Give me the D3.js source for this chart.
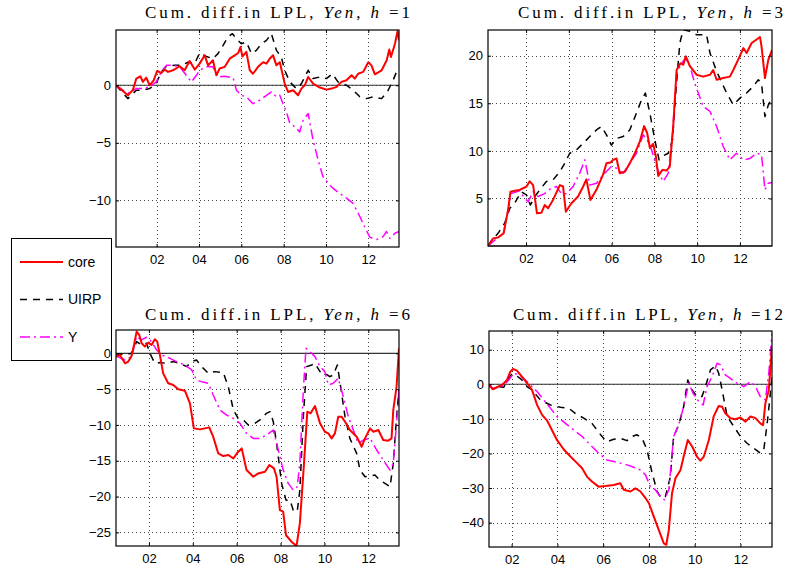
<!DOCTYPE html>
<html>
<head>
<meta charset="utf-8">
<script src="https://cdn.jsdelivr.net/npm/d3@7"></script>
<style>
body { margin: 0; background: #fff; }
</style>
</head>
<body>
<script>
var width = 790;
var height = 574;

// chart values
var horizons = [1, 3, 6, 12];
var xStart = [2000.08, 2000.22, 2000.5, 2001.01];
var xEnd = [2013.45, 2013.5, 2013.4, 2013.38];
var yDomains = [[-14.05, 4.8], [0, 22.7], [-26.9, 3.25], [-47.05, 15.4]];
var yTicks = [[-10, -5, 0], [5, 10, 15, 20], [-25, -20, -15, -10, -5, 0], [-40, -30, -20, -10, 0, 10]];
var xTicks = [2002, 2004, 2006, 2008, 2010, 2012];
var xTickLabels = ["02", "04", "06", "08", "10", "12"];
var seriesNames = ["core", "UIRP", "Y"];

var h1Core = [[2000.08,0],[2000.64,-0.87],[2000.88,-0.4],[2001.04,0.58],[2001.23,0.78],[2001.35,0.3],[2001.51,0.66],[2001.67,0],[2001.86,0.43],[2002.02,1.24],[2002.22,1.07],[2002.38,1.36],[2002.54,1.16],[2002.77,1.3],[2003.09,1.65],[2003.32,1.3],[2003.56,2.1],[2003.8,1.36],[2004.03,1.88],[2004.27,2.6],[2004.43,1.73],[2004.66,2.17],[2004.82,0.87],[2004.98,1.45],[2005.22,1.6],[2005.45,2.31],[2005.69,2.6],[2005.85,2.8],[2005.96,3.32],[2006.05,2.5],[2006.24,2.9],[2006.4,1.3],[2006.55,1.0],[2006.79,1.6],[2007.03,2.0],[2007.19,1.88],[2007.34,2.31],[2007.5,2.6],[2007.66,1.73],[2007.82,2.0],[2008.05,0.14],[2008.21,-0.58],[2008.45,-0.43],[2008.68,-0.87],[2008.84,-0.29],[2009.0,0],[2009.16,0.72],[2009.39,0.14],[2009.71,-0.2],[2010.02,-0.38],[2010.26,-0.29],[2010.5,-0.14],[2010.73,0.29],[2010.97,0.43],[2011.21,0.87],[2011.36,0.58],[2011.52,1.0],[2011.76,1.16],[2012.0,2.0],[2012.15,1.73],[2012.31,0.95],[2012.63,1.3],[2012.87,2.17],[2012.99,3.1],[2013.07,2.46],[2013.26,3.6],[2013.38,4.7],[2013.45,3.9]];
var h1Uirp = [[2000.08,0],[2000.64,-1.16],[2001.04,-0.43],[2001.35,-0.43],[2001.67,-0.29],[2001.98,0.14],[2002.22,1.16],[2002.46,1.65],[2002.85,1.73],[2003.17,1.73],[2003.48,2.0],[2003.8,1.88],[2004.03,2.8],[2004.35,2.5],[2004.66,2.31],[2004.9,2.75],[2005.14,3.47],[2005.37,4.2],[2005.58,4.48],[2005.77,4.05],[2006.0,3.6],[2006.24,3.76],[2006.48,2.75],[2006.71,3.03],[2006.95,3.6],[2007.19,3.9],[2007.42,4.48],[2007.66,3.03],[2007.89,2.46],[2008.05,1.3],[2008.29,0.29],[2008.6,-0.29],[2008.84,0.14],[2009.16,1.3],[2009.39,0.58],[2009.71,0.72],[2010.02,0.58],[2010.3,1.0],[2010.57,0.29],[2010.97,0],[2011.28,-0.43],[2011.6,-1.0],[2011.91,-1.16],[2012.23,-1.0],[2012.63,-1.16],[2012.94,-0.43],[2013.17,0.43],[2013.33,1.16],[2013.45,1.24]];
var h1Y = [[2000.08,0],[2000.64,-0.72],[2001.04,-0.29],[2001.35,-0.29],[2001.67,-0.14],[2001.98,0.29],[2002.22,1.16],[2002.46,1.73],[2002.77,1.73],[2003.09,1.6],[2003.4,0.87],[2003.64,0.29],[2003.88,0.87],[2004.03,1.3],[2004.35,1.6],[2004.66,1.6],[2004.9,0.72],[2005.22,0.78],[2005.61,0.66],[2005.77,-0.43],[2006.0,-0.87],[2006.24,-1.0],[2006.55,-1.6],[2006.87,-1.3],[2007.19,-0.87],[2007.42,-0.58],[2007.66,-1.0],[2007.82,-0.87],[2007.97,-1.6],[2008.13,-2.3],[2008.29,-3.3],[2008.52,-3.6],[2008.76,-4.05],[2008.92,-3.03],[2009.16,-2.46],[2009.39,-4.77],[2009.63,-6.5],[2009.86,-7.95],[2010.1,-8.5],[2010.34,-8.96],[2010.65,-9.4],[2010.97,-9.8],[2011.28,-10.26],[2011.6,-11.4],[2011.83,-12.3],[2012.07,-13.2],[2012.39,-13.4],[2012.7,-13.15],[2012.86,-12.7],[2013.02,-13.3],[2013.26,-12.86],[2013.45,-12.7]];

var h3Core = [[2000.22,0],[2000.46,0.8],[2000.69,0.9],[2000.95,1.33],[2001.16,3.8],[2001.27,5.7],[2001.47,5.8],[2001.7,5.9],[2001.86,6.07],[2002.02,6.25],[2002.17,6.8],[2002.33,6.4],[2002.51,3.44],[2002.72,3.5],[2002.87,4.3],[2003.03,3.96],[2003.26,4.84],[2003.58,6.4],[2003.73,6.25],[2003.86,3.6],[2004.12,4.5],[2004.43,5.2],[2004.67,6.25],[2004.82,7.0],[2005.01,4.84],[2005.29,5.9],[2005.6,7.5],[2005.76,8.7],[2005.95,8.77],[2006.07,9.05],[2006.23,9.2],[2006.38,7.65],[2006.62,7.8],[2006.85,8.7],[2007.09,9.75],[2007.32,10.98],[2007.52,12.6],[2007.66,11.9],[2007.79,10.3],[2007.94,10.74],[2008.07,9.4],[2008.18,7.37],[2008.38,8.0],[2008.57,7.93],[2008.72,8.35],[2008.88,12.56],[2009.04,18.5],[2009.22,19.2],[2009.35,19.05],[2009.47,19.93],[2009.66,18.9],[2009.97,18.0],[2010.28,17.8],[2010.6,18.0],[2010.75,18.5],[2010.91,17.47],[2011.22,17.65],[2011.53,17.8],[2011.69,18.5],[2011.92,19.58],[2012.16,20.8],[2012.31,20.28],[2012.55,21.33],[2012.78,21.7],[2012.94,21.96],[2013.01,20.98],[2013.17,17.65],[2013.33,19.58],[2013.5,20.6]];
var h3Uirp = [[2000.22,0],[2000.46,0.8],[2000.69,1.33],[2001.0,2.4],[2001.24,3.96],[2001.47,4.5],[2001.78,5.7],[2002.02,5.37],[2002.2,4.3],[2002.41,5.2],[2002.64,5.9],[2002.95,6.77],[2003.26,6.95],[2003.58,7.82],[2003.81,8.7],[2004.04,9.75],[2004.36,10.1],[2004.67,10.8],[2004.98,11.5],[2005.29,12.2],[2005.53,12.56],[2005.76,11.68],[2005.99,10.6],[2006.23,11.3],[2006.54,11.5],[2006.85,12.2],[2007.16,13.96],[2007.4,15.37],[2007.58,16.07],[2007.79,13.96],[2008.02,11.16],[2008.22,9.05],[2008.41,9.47],[2008.65,9.75],[2008.85,11.16],[2009.0,16.07],[2009.19,21.33],[2009.35,22.74],[2009.66,22.56],[2009.97,22.2],[2010.44,22.2],[2010.6,20.28],[2010.91,18.35],[2011.38,16.07],[2011.69,14.84],[2012.0,15.54],[2012.31,16.07],[2012.62,16.77],[2012.86,17.47],[2013.01,17.1],[2013.17,13.6],[2013.33,14.84],[2013.5,15.54]];
var h3Y = [[2000.22,0],[2000.69,0.9],[2000.95,1.33],[2001.16,3.8],[2001.31,5.5],[2001.7,5.8],[2001.94,5.0],[2002.1,4.66],[2002.33,5.7],[2002.56,5.2],[2002.87,5.5],[2003.11,5.96],[2003.42,6.25],[2003.65,5.5],[2003.89,5.5],[2004.2,6.25],[2004.51,7.65],[2004.75,9.05],[2004.98,6.4],[2005.29,6.6],[2005.68,7.65],[2005.99,8.35],[2006.23,8.17],[2006.54,7.65],[2006.85,8.7],[2007.16,9.75],[2007.48,11.68],[2007.66,11.16],[2007.87,10.1],[2008.1,8.35],[2008.26,7.47],[2008.41,6.77],[2008.65,7.65],[2008.85,11.86],[2009.04,18.17],[2009.27,19.2],[2009.47,19.75],[2009.66,18.9],[2009.89,17.1],[2010.28,14.67],[2010.6,14.14],[2010.91,12.56],[2011.22,10.46],[2011.53,9.05],[2011.84,9.75],[2012.16,9.05],[2012.47,9.2],[2012.78,9.75],[2013.01,9.6],[2013.17,5.9],[2013.33,6.6],[2013.5,6.67]];

var h6Core = [[2000.5,-0.47],[2000.68,-0.23],[2000.91,-1.4],[2001.06,-1.16],[2001.21,-0.37],[2001.32,1.16],[2001.44,3.03],[2001.56,2.56],[2001.67,1.4],[2001.82,0.93],[2001.97,1.49],[2002.12,1.16],[2002.27,1.96],[2002.38,1.63],[2002.5,-0.23],[2002.65,-2.8],[2002.88,-4.19],[2003.11,-4.42],[2003.34,-5.03],[2003.64,-5.22],[2003.87,-6.99],[2004.05,-10.48],[2004.33,-10.62],[2004.55,-10.48],[2004.75,-10.34],[2004.93,-11.64],[2005.16,-13.97],[2005.39,-14.35],[2005.62,-14.2],[2005.85,-14.67],[2006.03,-13.88],[2006.23,-13.27],[2006.45,-16.3],[2006.76,-17.23],[2006.98,-16.77],[2007.29,-16.53],[2007.49,-15.6],[2007.7,-16.07],[2007.82,-17.23],[2007.97,-21.9],[2008.12,-22.1],[2008.25,-25.4],[2008.5,-26.3],[2008.73,-26.9],[2008.88,-23.75],[2009.07,-15.37],[2009.22,-8.15],[2009.37,-8.38],[2009.57,-7.36],[2009.8,-9.78],[2010.02,-10.95],[2010.18,-11.18],[2010.33,-11.88],[2010.48,-11.18],[2010.63,-8.85],[2010.78,-8.85],[2010.94,-9.55],[2011.16,-10.71],[2011.47,-11.64],[2011.7,-13.04],[2011.85,-11.88],[2012.08,-10.48],[2012.23,-10.95],[2012.46,-10.71],[2012.68,-12.1],[2012.91,-12.2],[2013.06,-11.88],[2013.14,-7.9],[2013.29,-4.66],[2013.4,0.7]];
var h6Uirp = [[2000.5,-0.37],[2000.68,-0.1],[2000.91,-0.23],[2001.21,0],[2001.44,1.63],[2001.67,1.16],[2001.89,1.4],[2002.08,-0.23],[2002.27,-1.4],[2002.5,-1.3],[2002.8,-1.4],[2003.11,-1.16],[2003.41,-1.4],[2003.72,-1.86],[2003.95,-1.16],[2004.17,-0.93],[2004.4,-1.86],[2004.71,-2.8],[2005.0,-2.56],[2005.39,-2.7],[2005.62,-4.66],[2005.85,-7.92],[2006.07,-9.08],[2006.3,-9.3],[2006.53,-10.0],[2006.83,-9.78],[2007.06,-9.3],[2007.36,-8.38],[2007.52,-8.15],[2007.67,-9.55],[2007.82,-12.58],[2008.05,-18.16],[2008.25,-20.5],[2008.43,-20.5],[2008.58,-21.9],[2008.76,-22.1],[2008.88,-19.1],[2009.04,-8.85],[2009.19,-1.86],[2009.42,-1.63],[2009.57,-1.4],[2009.8,-2.56],[2010.02,-2.8],[2010.25,-3.26],[2010.4,-3.03],[2010.59,-1.63],[2010.74,-4.66],[2010.94,-8.85],[2011.16,-11.88],[2011.47,-13.97],[2011.62,-16.3],[2011.85,-17.23],[2012.08,-17.14],[2012.3,-17.0],[2012.53,-17.7],[2012.76,-18.16],[2012.99,-18.63],[2013.14,-15.37],[2013.29,-8.85],[2013.4,-5.12]];
var h6Y = [[2000.5,-0.37],[2000.91,-0.93],[2001.21,-0.47],[2001.44,2.33],[2001.67,1.86],[2001.89,2.24],[2002.12,1.63],[2002.35,0.47],[2002.58,-0.23],[2002.96,-0.7],[2003.26,-1.16],[2003.64,-1.63],[2003.95,-2.33],[2004.17,-3.73],[2004.4,-3.96],[2004.71,-4.19],[2004.93,-5.82],[2005.24,-7.92],[2005.54,-8.62],[2005.85,-9.08],[2006.15,-9.78],[2006.45,-11.18],[2006.76,-11.88],[2007.06,-11.88],[2007.36,-11.41],[2007.67,-10.71],[2007.9,-13.51],[2008.12,-16.3],[2008.35,-18.16],[2008.58,-19.1],[2008.76,-18.63],[2008.88,-15.37],[2009.04,-5.12],[2009.16,0.7],[2009.34,0.23],[2009.57,-0.47],[2009.8,-1.86],[2010.02,-2.56],[2010.18,-4.42],[2010.4,-4.19],[2010.63,-3.49],[2010.86,-6.05],[2011.09,-8.85],[2011.32,-10.71],[2011.54,-12.58],[2011.77,-12.11],[2012.08,-11.88],[2012.38,-13.5],[2012.68,-14.9],[2012.99,-16.3],[2013.14,-15.37],[2013.29,-9.78],[2013.4,-5.12]];

var h12Core = [[2001.01,-0.2],[2001.18,-1.45],[2001.36,-0.87],[2001.58,-0.2],[2001.8,1.25],[2001.94,3.66],[2002.06,4.43],[2002.23,3.95],[2002.45,2.2],[2002.67,0.3],[2002.89,-1.64],[2003.11,-5.97],[2003.33,-8.86],[2003.55,-10.5],[2003.76,-13.2],[2003.98,-16.1],[2004.27,-18.8],[2004.57,-20.9],[2004.86,-22.8],[2005.08,-24.3],[2005.29,-26.7],[2005.51,-28.1],[2005.8,-29.6],[2006.1,-29.4],[2006.46,-29.1],[2006.75,-28.6],[2006.9,-30.5],[2007.19,-31.0],[2007.41,-30.1],[2007.63,-31.0],[2007.85,-32.9],[2008.0,-34.4],[2008.21,-38.2],[2008.43,-42.1],[2008.65,-46.0],[2008.76,-46.4],[2008.87,-42.1],[2009.01,-31.5],[2009.16,-27.2],[2009.38,-24.8],[2009.52,-20.9],[2009.7,-16.1],[2009.89,-18.0],[2010.1,-20.9],[2010.25,-22.1],[2010.4,-20.9],[2010.62,-16.1],[2010.83,-9.3],[2011.05,-6.3],[2011.2,-6.5],[2011.34,-8.4],[2011.56,-9.8],[2011.78,-10.1],[2012.0,-9.6],[2012.22,-10.8],[2012.44,-9.3],[2012.66,-9.8],[2012.87,-11.3],[2012.99,-11.8],[2013.09,-5.5],[2013.24,-1.64],[2013.38,10.9]];
var h12Uirp = [[2001.01,-0.2],[2001.18,-1.45],[2001.36,-0.67],[2001.65,-0.87],[2001.83,1.25],[2002.01,3.0],[2002.23,2.4],[2002.45,1.25],[2002.67,-0.67],[2002.89,-1.64],[2003.25,-4.5],[2003.69,-6.0],[2004.13,-6.65],[2004.49,-6.9],[2004.78,-8.4],[2005.15,-9.8],[2005.51,-11.3],[2005.73,-13.2],[2005.95,-15.1],[2006.17,-16.6],[2006.46,-15.9],[2006.75,-15.6],[2007.04,-16.3],[2007.26,-15.1],[2007.48,-14.6],[2007.7,-15.6],[2007.92,-19.0],[2008.14,-25.7],[2008.36,-31.0],[2008.53,-32.9],[2008.72,-32.5],[2008.94,-26.7],[2009.08,-15.1],[2009.3,-11.8],[2009.52,-6.45],[2009.7,1.25],[2009.89,-1.64],[2010.1,-3.56],[2010.32,-3.56],[2010.47,-0.67],[2010.69,4.14],[2010.91,5.3],[2011.05,3.2],[2011.2,-1.64],[2011.42,-9.3],[2011.71,-12.2],[2012.0,-15.1],[2012.29,-17.05],[2012.58,-18.5],[2012.87,-19.9],[2013.02,-19.0],[2013.17,-11.3],[2013.28,-4.5],[2013.38,2.2]];
var h12Y = [[2001.01,-0.2],[2001.18,-1.2],[2001.43,-0.67],[2001.65,-0.5],[2001.87,1.25],[2002.09,3.2],[2002.31,2.7],[2002.52,1.73],[2002.82,-0.2],[2003.11,-2.1],[2003.4,-4.5],[2003.69,-6.9],[2003.98,-9.3],[2004.35,-11.3],[2004.71,-13.2],[2005.08,-15.1],[2005.44,-17.5],[2005.8,-19.9],[2006.17,-21.9],[2006.46,-22.35],[2006.75,-22.8],[2007.04,-23.3],[2007.34,-24.0],[2007.63,-24.8],[2007.85,-26.2],[2008.06,-29.6],[2008.28,-30.5],[2008.5,-32.5],[2008.68,-33.4],[2008.87,-30.5],[2009.08,-15.1],[2009.3,-11.8],[2009.52,-6.45],[2009.74,0.3],[2009.93,-2.6],[2010.18,-5.0],[2010.37,-6.0],[2010.54,-0.67],[2010.76,2.2],[2010.98,6.07],[2011.13,5.6],[2011.34,2.7],[2011.56,1.73],[2011.85,0.3],[2012.15,-0.67],[2012.44,0.77],[2012.66,-0.67],[2012.87,-3.56],[2013.09,-4.5],[2013.24,3.2],[2013.38,14.7]];

var panelSeries = [
  [h1Core, h1Uirp, h1Y],
  [h3Core, h3Uirp, h3Y],
  [h6Core, h6Uirp, h6Y],
  [h12Core, h12Uirp, h12Y]
];

// layout and styles
var frames = [
  {x: 116, y: 30, w: 283, h: 217},
  {x: 488, y: 30, w: 284, h: 216},
  {x: 116, y: 330, w: 283, h: 216},
  {x: 489, y: 331, w: 283, h: 216}
];
var titlePos = [
  {x: 145, y: 18, len: 265},
  {x: 518, y: 18, len: 265},
  {x: 145, y: 320, len: 265},
  {x: 513, y: 320, len: 270}
];
var colors = ["#ff0000", "#000000", "#ff00ff"];
var dashes = [null, "7,6", "10,4,2,4"];
var strokeW = [2, 1.5, 1.5];
var drawOrder = [1, 2, 0];
var sans = "'Liberation Sans', Arial, Helvetica, sans-serif";
var serif = "'Liberation Serif', 'Times New Roman', serif";

var svg = d3.select("body").append("svg")
  .attr("width", width)
  .attr("height", height)
  .style("display", "block");

svg.append("rect").attr("width", width).attr("height", height).attr("fill", "#fff");

// legend (drawn first, axes labels sit over its edge)
var legend = svg.append("g").attr("class", "legend");
legend.append("rect")
  .attr("x", 11.5).attr("y", 238.5)
  .attr("width", 100).attr("height", 122)
  .attr("fill", "#fff").attr("stroke", "#000").attr("stroke-width", 1);
var legendY = [262, 299.5, 337];
seriesNames.forEach(function (name, i) {
  legend.append("line")
    .attr("x1", 20).attr("x2", 63)
    .attr("y1", legendY[i]).attr("y2", legendY[i])
    .attr("stroke", colors[i])
    .attr("stroke-width", strokeW[i])
    .attr("stroke-dasharray", dashes[i]);
  legend.append("text")
    .attr("x", 68).attr("y", legendY[i])
    .attr("dy", "0.35em")
    .style("font-family", sans)
    .style("font-size", "14px")
    .text(name);
});

frames.forEach(function (f, p) {
  var x = d3.scaleLinear().domain([xStart[p], xEnd[p]]).range([f.x, f.x + f.w]);
  var y = d3.scaleLinear().domain(yDomains[p]).range([f.y + f.h, f.y]);
  var g = svg.append("g").attr("class", "panel");

  g.append("clipPath").attr("id", "clip" + p)
    .append("rect").attr("x", f.x).attr("y", f.y).attr("width", f.w).attr("height", f.h);

  // dotted grid
  g.selectAll(".gx").data(xTicks).enter().append("line")
    .attr("x1", function (d) { return Math.round(x(d)) + 0.5; })
    .attr("x2", function (d) { return Math.round(x(d)) + 0.5; })
    .attr("y1", f.y).attr("y2", f.y + f.h)
    .attr("stroke", "#444").attr("stroke-width", 1)
    .attr("stroke-dasharray", "1,3");
  g.selectAll(".gy").data(yTicks[p]).enter().append("line")
    .attr("y1", function (d) { return Math.round(y(d)) + 0.5; })
    .attr("y2", function (d) { return Math.round(y(d)) + 0.5; })
    .attr("x1", f.x).attr("x2", f.x + f.w)
    .attr("stroke", "#444").attr("stroke-width", 1)
    .attr("stroke-dasharray", "1,3");

  // zero line
  g.append("line")
    .attr("x1", f.x).attr("x2", f.x + f.w)
    .attr("y1", y(0)).attr("y2", y(0))
    .attr("stroke", "#333").attr("stroke-width", 1.2);

  var line = d3.line()
    .x(function (d) { return x(d[0]); })
    .y(function (d) { return y(d[1]); });

  var lines = g.append("g").attr("clip-path", "url(#clip" + p + ")");
  drawOrder.forEach(function (s) {
    lines.append("path")
      .datum(panelSeries[p][s])
      .attr("d", line)
      .attr("fill", "none")
      .attr("stroke", colors[s])
      .attr("stroke-width", strokeW[s])
      .attr("stroke-linejoin", "round")
      .attr("stroke-dasharray", dashes[s]);
  });

  // axes: inward ticks on all four sides
  var bottom = g.append("g")
    .attr("transform", "translate(0," + (f.y + f.h) + ")")
    .call(d3.axisBottom(x).tickValues(xTicks)
      .tickFormat(function (d, i) { return xTickLabels[i]; })
      .tickSizeInner(-3).tickSizeOuter(0).tickPadding(8));
  var left = g.append("g")
    .attr("transform", "translate(" + f.x + ",0)")
    .call(d3.axisLeft(y).tickValues(yTicks[p])
      .tickFormat(function (d) { return d < 0 ? "\u2212" + Math.abs(d) : "" + d; })
      .tickSizeInner(-3).tickSizeOuter(0).tickPadding(5));
  var top = g.append("g")
    .attr("transform", "translate(0," + f.y + ")")
    .call(d3.axisTop(x).tickValues(xTicks).tickFormat("").tickSizeInner(-3).tickSizeOuter(0));
  var right = g.append("g")
    .attr("transform", "translate(" + (f.x + f.w) + ",0)")
    .call(d3.axisRight(y).tickValues(yTicks[p]).tickFormat("").tickSizeInner(-3).tickSizeOuter(0));

  [bottom, left, top, right].forEach(function (a) {
    a.select(".domain").remove();
    a.selectAll("line").attr("stroke", "#000");
    a.selectAll("text")
      .attr("fill", "#000")
      .style("font-family", sans)
      .style("font-size", "13px");
  });

  // frame
  g.append("rect")
    .attr("x", f.x).attr("y", f.y).attr("width", f.w).attr("height", f.h)
    .attr("fill", "none").attr("stroke", "#000").attr("stroke-width", 1.2);

  // title
  var t = titlePos[p];
  var title = svg.append("text")
    .attr("x", t.x).attr("y", t.y)
    .attr("textLength", t.len)
    .attr("lengthAdjust", "spacing")
    .style("font-family", serif)
    .style("font-size", "17px")
    .attr("fill", "#000");
  title.append("tspan").text("Cum. diff.in LPL, ");
  title.append("tspan").style("font-style", "italic").text("Yen");
  title.append("tspan").text(", ");
  title.append("tspan").style("font-style", "italic").text("h");
  title.append("tspan").text(" =" + horizons[p]);
});
</script>
</body>
</html>
